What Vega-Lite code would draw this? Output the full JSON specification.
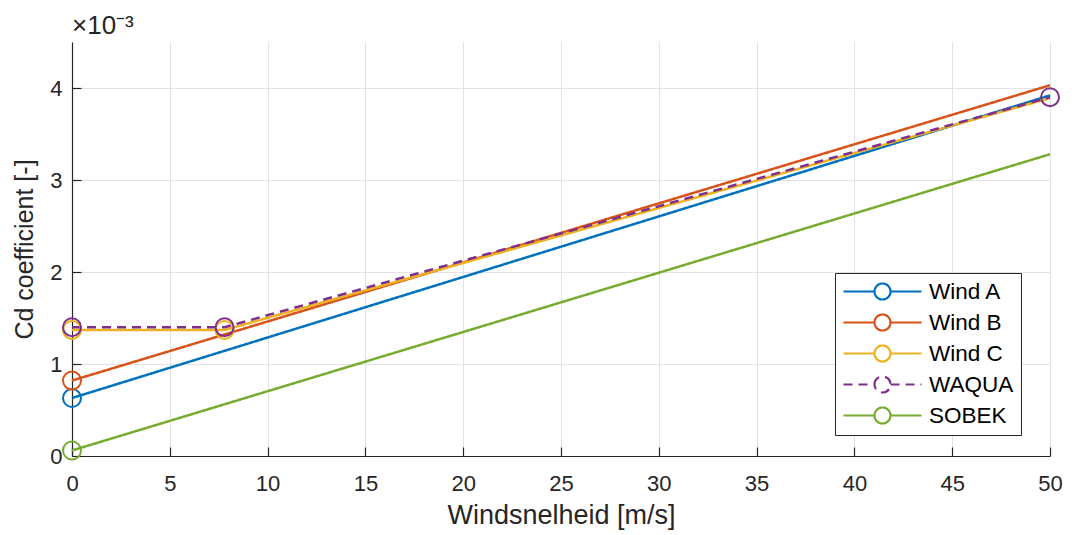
{
  "$schema": "https://vega.github.io/schema/vega-lite/v6.json",
  "width": 978,
  "height": 414,
  "autosize": {"type": "none"},
  "padding": {"left": 72, "top": 42, "right": 22, "bottom": 79},
  "background": "white",
  "title": {"text": "×10⁻³", "anchor": "start", "frame": "group", "fontSize": 26, "fontWeight": "normal", "color": "#262626", "font": "Liberation Sans", "offset": 3},
  "datasets": {
    "lines": [
      {"series": "Wind A", "x": 0, "y": 0.00063},
      {"series": "Wind A", "x": 50, "y": 0.00392},
      {"series": "Wind B", "x": 0, "y": 0.00082},
      {"series": "Wind B", "x": 50, "y": 0.00403},
      {"series": "Wind C", "x": 0, "y": 0.00137},
      {"series": "Wind C", "x": 7.8, "y": 0.00137},
      {"series": "Wind C", "x": 50, "y": 0.00389},
      {"series": "WAQUA", "x": 0, "y": 0.0014},
      {"series": "WAQUA", "x": 7.8, "y": 0.0014},
      {"series": "WAQUA", "x": 50, "y": 0.0039},
      {"series": "SOBEK", "x": 0, "y": 0.00006},
      {"series": "SOBEK", "x": 50, "y": 0.00328}
    ],
    "markers": [
      {"series": "Wind A", "x": 0, "y": 0.00063},
      {"series": "Wind B", "x": 0, "y": 0.00082},
      {"series": "Wind C", "x": 0, "y": 0.00137},
      {"series": "Wind C", "x": 7.8, "y": 0.00137},
      {"series": "WAQUA", "x": 0, "y": 0.0014},
      {"series": "WAQUA", "x": 7.8, "y": 0.0014},
      {"series": "WAQUA", "x": 50, "y": 0.0039},
      {"series": "SOBEK", "x": 0, "y": 0.00006}
    ]
  },
  "config": {
    "view": {"stroke": null},
    "font": "Liberation Sans",
    "axis": {
      "domainColor": "#262626",
      "domainWidth": 1.2,
      "tickColor": "#262626",
      "tickSize": -9,
      "tickWidth": 1.2,
      "gridColor": "#e3e3e3",
      "gridWidth": 1,
      "labelColor": "#262626",
      "labelFontSize": 22,
      "labelFont": "Liberation Sans",
      "labelFlush": false,
      "titleColor": "#262626",
      "titleFontSize": 25,
      "titleFontWeight": "normal",
      "titleFont": "Liberation Sans"
    },
    "legend": {
      "orient": "none",
      "legendX": 763,
      "legendY": 231,
      "fillColor": "white",
      "strokeColor": "#262626",
      "padding": 7,
      "labelFontSize": 22.5,
      "labelFont": "Liberation Sans",
      "labelColor": "#000000",
      "labelLimit": 300,
      "symbolType": "M-1,0H2.1M3.7,0H6.8M2.1,0A0.8,0.8 0 1,1 3.7,0A0.8,0.8 0 1,1 2.1,0",
      "symbolSize": 400,
      "symbolStrokeWidth": 2.2,
      "labelOffset": 64,
      "rowPadding": 6
    }
  },
  "encoding": {
    "x": {
      "field": "x",
      "type": "quantitative",
      "scale": {"domain": [0, 50], "nice": false},
      "axis": {"values": [0, 5, 10, 15, 20, 25, 30, 35, 40, 45, 50], "title": "Windsnelheid [m/s]", "labelPadding": 26, "titlePadding": 8, "titleFontSize": 27}
    },
    "y": {
      "field": "y",
      "type": "quantitative",
      "scale": {"domain": [0, 0.0045], "nice": false},
      "axis": {"values": [0, 0.001, 0.002, 0.003, 0.004], "labelExpr": "round(datum.value*1000)", "title": "Cd coefficient [-]", "labelPadding": 19, "titlePadding": 12}
    },
    "color": {
      "field": "series",
      "type": "nominal",
      "scale": {"domain": ["Wind A", "Wind B", "Wind C", "WAQUA", "SOBEK"], "range": ["#0072BD", "#D95319", "#EDB120", "#7E2F8E", "#77AC30"]},
      "legend": {"title": null}
    }
  },
  "layer": [
    {
      "data": {"name": "lines"},
      "mark": {"type": "line", "strokeWidth": 2.5},
      "encoding": {
        "strokeDash": {
          "field": "series",
          "type": "nominal",
          "scale": {"domain": ["Wind A", "Wind B", "Wind C", "WAQUA", "SOBEK"], "range": [[1, 0], [1, 0], [1, 0], [9, 6], [1, 0]]},
          "legend": {"title": null}
        }
      }
    },
    {
      "data": {"name": "markers"},
      "mark": {"type": "point", "shape": "circle", "size": 324, "strokeWidth": 2, "filled": false, "opacity": 1},
      "encoding": {}
    }
  ]
}
